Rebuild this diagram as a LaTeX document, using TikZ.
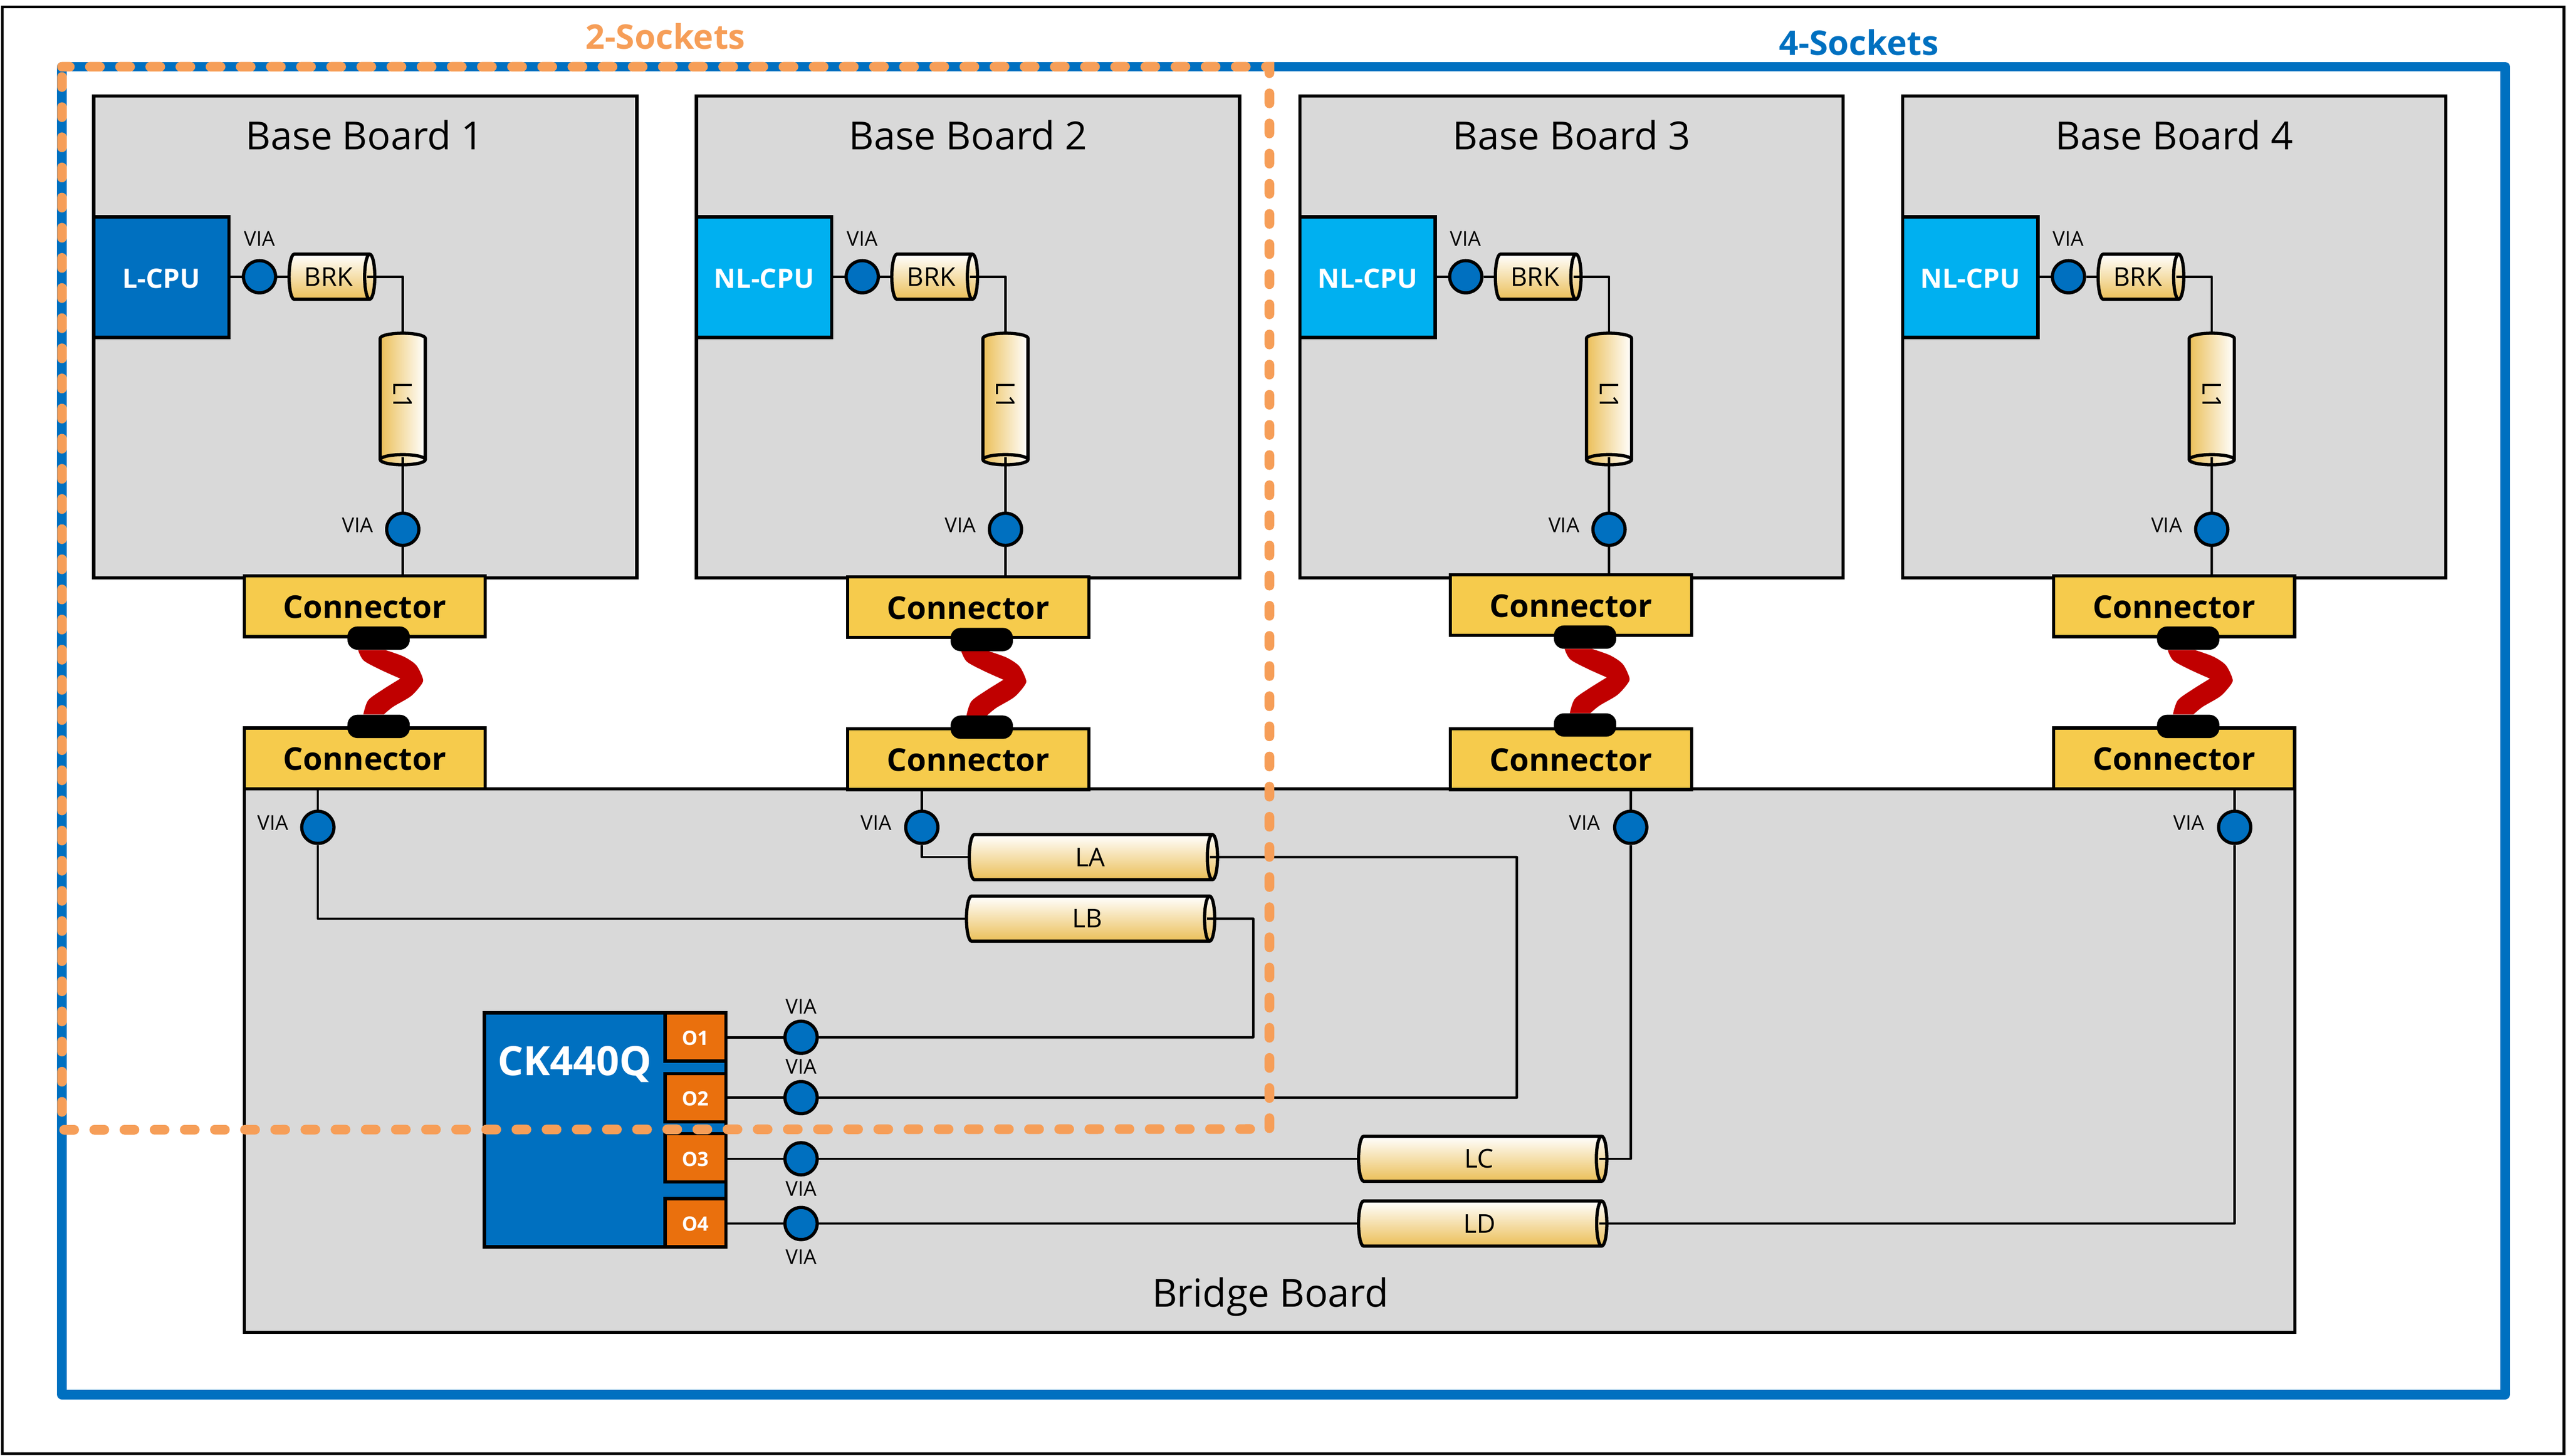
\documentclass[tikz,border=0pt]{standalone}
\usepackage{fontspec}
\setmainfont{Open Sans}
\usepackage{xcolor}
\definecolor{colorBoard}{HTML}{D9D9D9}
\definecolor{colorBlue}{HTML}{0070C0}
\definecolor{colorCyan}{HTML}{00B0F0}
\definecolor{colorConn}{HTML}{F6CB4C}
\definecolor{colorPort}{HTML}{EA700D}
\definecolor{colorDash}{HTML}{F69E58}
\definecolor{colorGold}{HTML}{EBBF58}
\definecolor{colorCable}{HTML}{C00000}
\usetikzlibrary{calc, positioning, shapes.geometric}
\tikzset{
  boardbox/.style={draw, line width=0.08cm, fill=colorBoard, inner sep=0pt, outer sep=0pt, anchor=north west},
  cpubox/.style={draw, line width=0.08cm, minimum width=3.36cm, minimum height=3cm, inner sep=0pt, outer sep=0pt, anchor=north west, text=white, text height=0.55cm, font=\fontsize{19}{19}\selectfont\bfseries},
  connbox/.style={draw, line width=0.08cm, fill=colorConn, minimum width=5.99cm, minimum height=1.51cm, inner sep=0pt, outer sep=0pt, anchor=north west, text height=0.6cm, font=\fontsize{22.2}{22.2}\selectfont\bfseries},
  portbox/.style={draw, line width=0.08cm, fill=colorPort, minimum width=1.51cm, minimum height=1.2cm, inner sep=0pt, outer sep=0pt, anchor=north west, text=white, text height=0.41cm, font=\fontsize{14}{14}\selectfont\bfseries},
  viadot/.style={circle, draw, line width=0.08cm, fill=colorBlue, minimum size=0.8cm, inner sep=0pt},
  vialabel/.style={inner sep=0pt, font=\fontsize{14.5}{14.5}\selectfont},
  boardtitle/.style={inner sep=0pt, font=\fontsize{27.4}{27.4}\selectfont},
  clipbox/.style={fill=black, rounded corners=0.25cm, minimum width=1.55cm, minimum height=0.58cm, inner sep=0pt},
  wire/.style={line width=0.06cm, line join=round},
  tube/.style={cylinder, anchor=shape center, draw, line width=0.08cm, shape aspect=0.55, inner sep=0pt, outer sep=0pt, minimum width=1.12cm, font=\fontsize{18.3}{18.3}\selectfont},
  tubeh/.style={tube, top color=white, bottom color=colorGold, minimum height=6.17cm},
  tubebrk/.style={tube, top color=white, bottom color=colorGold, minimum height=2.13cm},
  tubev/.style={tube, rotate=-90, left color=colorGold, right color=white, minimum height=3.27cm},
  pics/twistcable/.style={code={
    \fill[colorCable] plot[smooth] coordinates {(-0.51,0.80) (-0.37,0.54) (0.05,0.31) (0.54,0.09)}
      -- plot[smooth] coordinates {(0.54,0.09) (0.09,-0.19) (-0.26,-0.45) (-0.38,-0.80)}
      -- plot[smooth] coordinates {(0.13,-0.80) (0.36,-0.61) (0.81,-0.34) (1.08,-0.03) (1.09,0.12) (0.93,0.43) (0.62,0.64) (0.17,0.80)} -- cycle;
  }}
}

\begin{document}
\begin{tikzpicture}
\useasboundingbox (0,0) rectangle (63.8,-36.2);
\node[draw, line width=0.07cm, minimum width=63.66cm, minimum height=35.97cm, inner sep=0pt, outer sep=0pt, anchor=north west] (frame) at (0.06,-0.17) {};
\node[draw=colorBlue, line width=0.24cm, line join=round, minimum width=60.72cm, minimum height=33.01cm, inner sep=0pt, outer sep=0pt, anchor=north west] (fourframe) at (1.54,-1.66) {};
\node[text=colorDash, font=\fontsize{24}{24}\selectfont\bfseries, inner sep=0pt] (twolabel) at (16.54,-0.90) {2-Sockets};
\node[text=colorBlue, font=\fontsize{24}{24}\selectfont\bfseries, inner sep=0pt] (fourlabel) at (46.20,-1.06) {4-Sockets};

\node[boardbox, minimum width=13.5cm, minimum height=11.98cm] (board1) at (2.33,-2.39) {};
\node[boardbox, minimum width=13.5cm, minimum height=11.98cm] (board2) at (17.31,-2.39) {};
\node[boardbox, minimum width=13.5cm, minimum height=11.98cm] (board3) at (32.31,-2.39) {};
\node[boardbox, minimum width=13.5cm, minimum height=11.98cm] (board4) at (47.29,-2.39) {};
\node[boardbox, minimum width=50.97cm, minimum height=13.51cm] (bridge) at (6.07,-19.61) {};
\node[boardtitle] (title1) at (9.06,-3.36) {Base Board 1};
\node[boardtitle] (title2) at (24.06,-3.36) {Base Board 2};
\node[boardtitle] (title3) at (39.06,-3.36) {Base Board 3};
\node[boardtitle] (title4) at (54.04,-3.36) {Base Board 4};
\node[boardtitle] (title5) at (31.57,-32.24) {Bridge Board};

\node[cpubox, fill=colorBlue] (cpu1) at (2.33,-5.39) {L-CPU};
\node[cpubox, fill=colorCyan] (cpu2) at (17.31,-5.39) {NL-CPU};
\node[cpubox, fill=colorCyan] (cpu3) at (32.31,-5.39) {NL-CPU};
\node[cpubox, fill=colorCyan] (cpu4) at (47.29,-5.39) {NL-CPU};

\node[viadot] (via1a) at (6.45,-6.88) {};
\node[viadot] (via2a) at (21.43,-6.88) {};
\node[viadot] (via3a) at (36.43,-6.88) {};
\node[viadot] (via4a) at (51.41,-6.88) {};
\node[vialabel] (vl1a) at (6.45,-5.93) {VIA};
\node[vialabel] (vl2a) at (21.43,-5.93) {VIA};
\node[vialabel] (vl3a) at (36.43,-5.93) {VIA};
\node[vialabel] (vl4a) at (51.41,-5.93) {VIA};

\node[tubebrk] (brk1) at (8.25,-6.88) {BRK};
\node[tubebrk] (brk2) at (23.23,-6.88) {BRK};
\node[tubebrk] (brk3) at (38.23,-6.88) {BRK};
\node[tubebrk] (brk4) at (53.21,-6.88) {BRK};
\node[tubev] (line1) at (10.01,-9.92) {L1};
\node[tubev] (line2) at (24.99,-9.92) {L1};
\node[tubev] (line3) at (39.99,-9.92) {L1};
\node[tubev] (line4) at (54.97,-9.92) {L1};

\node[viadot] (via1b) at (10.01,-13.16) {};
\node[viadot] (via2b) at (24.99,-13.16) {};
\node[viadot] (via3b) at (39.99,-13.16) {};
\node[viadot] (via4b) at (54.97,-13.16) {};
\node[vialabel] (vl1b) at (8.89,-13.06) {VIA};
\node[vialabel] (vl2b) at (23.87,-13.06) {VIA};
\node[vialabel] (vl3b) at (38.87,-13.06) {VIA};
\node[vialabel] (vl4b) at (53.85,-13.06) {VIA};

\node[connbox] (conn1a) at (6.07,-14.32) {Connector};
\node[connbox] (conn2a) at (21.07,-14.34) {Connector};
\node[connbox] (conn3a) at (36.05,-14.29) {Connector};
\node[connbox] (conn4a) at (51.04,-14.32) {Connector};
\node[connbox] (conn1b) at (6.07,-18.10) {Connector};
\node[connbox] (conn2b) at (21.07,-18.12) {Connector};
\node[connbox] (conn3b) at (36.05,-18.12) {Connector};
\node[connbox] (conn4b) at (51.04,-18.10) {Connector};

\node[clipbox] (clip1a) at (9.41,-15.865) {};
\node[clipbox] (clip2a) at (24.40,-15.90) {};
\node[clipbox] (clip3a) at (39.395,-15.84) {};
\node[clipbox] (clip4a) at (54.385,-15.865) {};
\node[clipbox] (clip1b) at (9.41,-18.06) {};
\node[clipbox] (clip2b) at (24.40,-18.08) {};
\node[clipbox] (clip3b) at (39.395,-18.025) {};
\node[clipbox] (clip4b) at (54.385,-18.06) {};
\pic at ($(clip1a)!0.5!(clip1b)$) {twistcable};
\pic at ($(clip2a)!0.5!(clip2b)$) {twistcable};
\pic at ($(clip3a)!0.5!(clip3b)$) {twistcable};
\pic at ($(clip4a)!0.5!(clip4b)$) {twistcable};

\node[viadot] (via1c) at (7.90,-20.57) {};
\node[viadot] (via2c) at (22.91,-20.57) {};
\node[viadot] (via3c) at (40.53,-20.57) {};
\node[viadot] (via4c) at (55.54,-20.57) {};
\node[vialabel] (vl1c) at (6.78,-20.45) {VIA};
\node[vialabel] (vl2c) at (21.78,-20.45) {VIA};
\node[vialabel] (vl3c) at (39.39,-20.45) {VIA};
\node[vialabel] (vl4c) at (54.40,-20.45) {VIA};

\node[tubeh] (lineA) at (27.175,-21.31) {LA};
\node[tubeh] (lineB) at (27.105,-22.84) {LB};
\node[tubeh] (lineC) at (36.85,-28.81) {LC};
\node[tubeh] (lineD) at (36.85,-30.42) {LD};

\node[draw, line width=0.08cm, fill=colorBlue, minimum width=6cm, minimum height=5.82cm, inner sep=0pt, outer sep=0pt, anchor=north west] (clock) at (12.04,-25.18) {};
\node[text=white, font=\fontsize{28.6}{28.6}\selectfont\bfseries, inner sep=0pt] (clocktitle) at (14.28,-26.46) {CK440Q};
\node[portbox] (port1) at (16.53,-25.18) {O1};
\node[portbox] (port2) at (16.53,-26.69) {O2};
\node[portbox] (port3) at (16.53,-28.19) {O3};
\node[portbox] (port4) at (16.53,-29.80) {O4};
\node[viadot] (via1d) at (19.91,-25.79) {};
\node[viadot] (via2d) at (19.91,-27.29) {};
\node[viadot] (via3d) at (19.91,-28.81) {};
\node[viadot] (via4d) at (19.91,-30.42) {};
\node[vialabel] (vl1d) at (19.91,-25.02) {VIA};
\node[vialabel] (vl2d) at (19.91,-26.52) {VIA};
\node[vialabel] (vl3d) at (19.91,-29.56) {VIA};
\node[vialabel] (vl4d) at (19.91,-31.25) {VIA};

\draw[wire] (cpu1.east |- via1a) -- (via1a) -- (brk1.west);
\draw[wire] (cpu2.east |- via2a) -- (via2a) -- (brk2.west);
\draw[wire] (cpu3.east |- via3a) -- (via3a) -- (brk3.west);
\draw[wire] (cpu4.east |- via4a) -- (via4a) -- (brk4.west);
\draw[wire] ([xshift=-0.19cm]brk1.east) -| (line1.west);
\draw[wire] ([xshift=-0.19cm]brk2.east) -| (line2.west);
\draw[wire] ([xshift=-0.19cm]brk3.east) -| (line3.west);
\draw[wire] ([xshift=-0.19cm]brk4.east) -| (line4.west);
\draw[wire] ([yshift=0.19cm]line1.east) -- (via1b) -- (via1b |- conn1a.north);
\draw[wire] ([yshift=0.19cm]line2.east) -- (via2b) -- (via2b |- conn2a.north);
\draw[wire] ([yshift=0.19cm]line3.east) -- (via3b) -- (via3b |- conn3a.north);
\draw[wire] ([yshift=0.19cm]line4.east) -- (via4b) -- (via4b |- conn4a.north);

\draw[wire] (via1c |- bridge.north) -- (via1c) |- (lineB.west);
\draw[wire] (via2c |- bridge.north) -- (via2c) |- (lineA.west);
\draw[wire] (via3c |- bridge.north) -- (via3c) |- ([xshift=-0.19cm]lineC.east);
\draw[wire] (via4c |- bridge.north) -- (via4c) |- ([xshift=-0.19cm]lineD.east);
\coordinate (turnA) at (37.70,-21.31);
\coordinate (turnB) at (31.15,-22.84);
\draw[wire] ([xshift=-0.19cm]lineA.east) -- (turnA) |- (via2d);
\draw[wire] ([xshift=-0.19cm]lineB.east) -- (turnB) |- (via1d);
\draw[wire] (port1.east |- via1d) -- (via1d);
\draw[wire] (port2.east |- via2d) -- (via2d);
\draw[wire] (port3.east |- via3d) -- (via3d) -- (lineC.west);
\draw[wire] (port4.east |- via4d) -- (via4d) -- (lineD.west);

\coordinate (dashA) at (1.54,-1.66);
\coordinate (dashB) at (31.55,-1.66);
\coordinate (dashC) at (31.55,-28.07);
\coordinate (dashD) at (1.54,-28.09);
\draw[colorDash, line width=0.24cm, line cap=round, dash pattern=on 0.25cm off 0.4994cm, dash phase=0.055cm] (dashA) -- (dashB) -- (dashC) -- (dashD) -- cycle;
\end{tikzpicture}
\end{document}
